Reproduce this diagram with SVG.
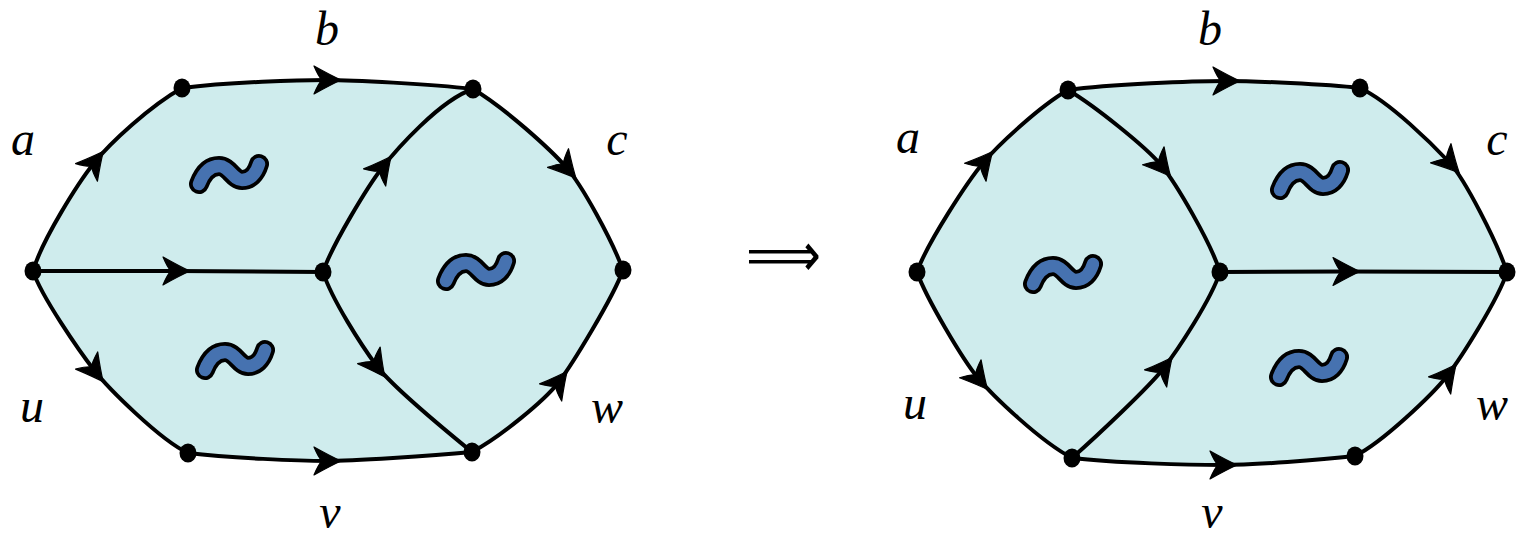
<svg xmlns="http://www.w3.org/2000/svg" xmlns:xlink="http://www.w3.org/1999/xlink" width="1518" height="535" viewBox="0 0 1518 535">
<style>
.face{fill:#cfeced;stroke:none}
.edge{fill:none;stroke:#000;stroke-width:4;marker-mid:url(#arr)}
.node{fill:#000}
.lbl{font-family:"Liberation Serif","DejaVu Serif",serif;font-style:italic;font-size:48px;fill:#000;text-anchor:middle}
.tb{fill:none;stroke:#000;stroke-width:20;stroke-linecap:round;stroke-linejoin:round}
.tf{fill:none;stroke:#4672b0;stroke-width:12.5;stroke-linecap:round;stroke-linejoin:round}
</style>
<defs>
<marker id="arr" viewBox="-25 -25 50 50" markerWidth="50" markerHeight="50" refX="0" refY="0" orient="auto" markerUnits="userSpaceOnUse" overflow="visible">
<path d="M15,0 C6,-4 -3,-9 -12,-14 C-9,-7 -7,-3 -4,0 C-7,3 -9,7 -12,14 C-3,9 6,4 15,0 Z" fill="#000" stroke="#000" stroke-width="1.2" stroke-linejoin="round"/>
</marker>
<path id="tl" d="M-30,9 C-25,-4 -18,-9 -10,-9 C0,-9 4,5 13,5 C21,5 27,-1 30,-11"/>
<g id="tilde"><use xlink:href="#tl" class="tb"/><use xlink:href="#tl" class="tf"/></g>
</defs>

<g id="left-face">
<path class="face" d="M33,271 C42,240 78,183 94,163 C110,143 150,106 182,88 C230,82 300,80 326,80 C352,80 430,84 473,89 C505,108 550,149 566,167 C582,185 612,240 623,270 C614,296 572,365 558,383 C544,401 500,437 472,452 C430,456 352,461 326,461 C300,461 230,458 188,453 C160,440 108,388 94,370 C80,352 41,296 33,271 Z"/>
</g>
<g id="right-face">
<path class="face" d="M917,272 C927,243 968,181 983,163 C998,145 1040,106 1068,90 C1110,84 1195,81 1225,81 C1255,81 1325,84 1360,88 C1390,102 1433,145 1449,162 C1465,179 1497,242 1507,272 C1499,298 1461,358 1447,376 C1433,394 1383,442 1355,456 C1320,460 1254,465 1222,465 C1190,465 1115,463 1072,458 C1040,441 993,396 978,378 C963,360 926,298 917,272 Z"/>
</g>

<g id="tildes">
<use xlink:href="#tilde" transform="translate(229,175)"/>
<use xlink:href="#tilde" transform="translate(235,361)"/>
<use xlink:href="#tilde" transform="translate(476,272)"/>
<use xlink:href="#tilde" transform="translate(1063,275)"/>
<use xlink:href="#tilde" transform="translate(1310,181)"/>
<use xlink:href="#tilde" transform="translate(1309,368)"/>
</g>

<g id="connectors">
<path class="edge" d="M33,271 C42,240 78,183 94,163 S150,106 182,88"/>
<path class="edge" d="M182,88 C230,82 300,80 326,80 S430,84 473,89"/>
<path class="edge" d="M473,89 C505,108 550,149 566,167 S612,240 623,270"/>
<path class="edge" d="M323,272 C332,245 368,186 382,168 S440,100 473,89"/>
<path class="edge" d="M33,271 L175,271 L323,272"/>
<path class="edge" d="M33,271 C41,296 80,352 94,370 S160,440 188,453"/>
<path class="edge" d="M188,453 C230,458 300,461 326,461 S430,456 472,452"/>
<path class="edge" d="M323,272 C332,300 362,346 376,365 S445,430 472,452"/>
<path class="edge" d="M472,452 C500,437 544,401 558,383 S614,296 623,270"/>

<path class="edge" d="M917,272 C927,243 968,181 983,163 S1040,106 1068,90"/>
<path class="edge" d="M1068,90 C1110,84 1195,81 1225,81 S1325,84 1360,88"/>
<path class="edge" d="M1360,88 C1390,102 1433,145 1449,162 S1497,242 1507,272"/>
<path class="edge" d="M1068,90 C1095,106 1146,147 1161,165 S1211,243 1220,272"/>
<path class="edge" d="M1220,272 L1345,271.5 L1507,272"/>
<path class="edge" d="M917,272 C926,298 963,360 978,378 S1040,441 1072,458"/>
<path class="edge" d="M1072,458 C1097,436 1149,387 1163,369 S1211,300 1220,272"/>
<path class="edge" d="M1072,458 C1115,463 1190,465 1222,465 S1320,460 1355,456"/>
<path class="edge" d="M1355,456 C1383,442 1433,394 1447,376 S1499,298 1507,272"/>
</g>

<g id="n-l1"><ellipse class="node" cx="33" cy="271" rx="8.5" ry="9.5"/></g>
<g id="n-l2"><ellipse class="node" cx="182" cy="88" rx="8.5" ry="9.5"/></g>
<g id="n-l3"><ellipse class="node" cx="473" cy="89" rx="8.5" ry="9.5"/></g>
<g id="n-l4"><ellipse class="node" cx="323" cy="272" rx="8.5" ry="9.5"/></g>
<g id="n-l5"><ellipse class="node" cx="623" cy="270" rx="8.5" ry="9.5"/></g>
<g id="n-l6"><ellipse class="node" cx="188" cy="453" rx="8.5" ry="9.5"/></g>
<g id="n-l7"><ellipse class="node" cx="472" cy="452" rx="8.5" ry="9.5"/></g>

<g id="n-r1"><ellipse class="node" cx="917" cy="272" rx="8.5" ry="9.5"/></g>
<g id="n-r2"><ellipse class="node" cx="1068" cy="90" rx="8.5" ry="9.5"/></g>
<g id="n-r3"><ellipse class="node" cx="1360" cy="88" rx="8.5" ry="9.5"/></g>
<g id="n-r4"><ellipse class="node" cx="1220" cy="272" rx="8.5" ry="9.5"/></g>
<g id="n-r5"><ellipse class="node" cx="1507" cy="272" rx="8.5" ry="9.5"/></g>
<g id="n-r6"><ellipse class="node" cx="1072" cy="458" rx="8.5" ry="9.5"/></g>
<g id="n-r7"><ellipse class="node" cx="1355" cy="456" rx="8.5" ry="9.5"/></g>

<g id="labels">
<text class="lbl" x="23" y="155">a</text>
<text class="lbl" x="327" y="45">b</text>
<text class="lbl" x="617" y="155">c</text>
<text class="lbl" x="32" y="422">u</text>
<text class="lbl" x="330" y="528">v</text>
<text class="lbl" x="607" y="423">w</text>
<text class="lbl" x="908" y="153">a</text>
<text class="lbl" x="1210" y="45">b</text>
<text class="lbl" x="1497" y="155">c</text>
<text class="lbl" x="915" y="419">u</text>
<text class="lbl" x="1212" y="528">v</text>
<text class="lbl" x="1492" y="420">w</text>
</g>

<g id="implies">
<text x="746" y="276" font-family="DejaVu Sans, sans-serif" font-size="62" textLength="75" lengthAdjust="spacingAndGlyphs">⟹</text>
</g>
</svg>
